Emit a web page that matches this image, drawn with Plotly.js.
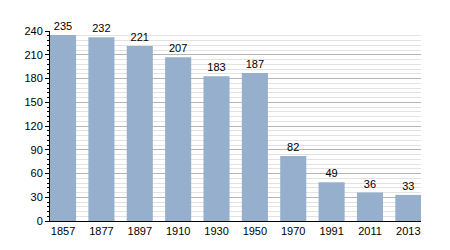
<!DOCTYPE html>
<html><head><meta charset="utf-8">
<script src="https://cdn.plot.ly/plotly-3.0.1.min.js"></script>
<style>body{margin:0;background:#fff}#c{width:450px;height:250px}</style>
</head><body><div id="c"></div>
<script>
const years = ["1857","1877","1897","1910","1930","1950","1970","1991","2011","2013"];
const population = [235,232,221,207,183,187,82,49,36,33];
const yTicks = [0,30,60,90,120,150,180,210,240];

Plotly.newPlot('c', [{
  type: 'bar',
  x: years,
  y: population,
  text: population.map(String),
  textposition: 'outside',
  textfont: {family: 'Liberation Sans, Arial, sans-serif', size: 11, color: '#000'},
  cliponaxis: false,
  marker: {color: '#96afcd'},
  hoverinfo: 'none'
}], {
  width: 450, height: 250,
  margin: {l: 50, r: 29, t: 31, b: 29, pad: 0},
  paper_bgcolor: '#fff', plot_bgcolor: '#fff',
  bargap: 0.32,
  showlegend: false,
  font: {family: 'Liberation Sans, Arial, sans-serif', size: 11, color: '#000'},
  xaxis: {
    type: 'category',
    range: [-0.34, 9.33],
    showline: true, linecolor: '#000', linewidth: 1,
    ticks: '', showgrid: false, zeroline: false,
    tickfont: {size: 11}
  },
  yaxis: {
    range: [0, 240],
    tickvals: yTicks,
    ticktext: yTicks.map(String),
    showline: true, linecolor: '#000', linewidth: 1,
    ticks: 'outside', ticklen: 4, tickcolor: '#000',
    gridcolor: '#b5b5b5', gridwidth: 1,
    zeroline: false,
    tickfont: {size: 11},
    minor: {dtick: 6, ticks: 'outside', ticklen: 2, tickcolor: '#000', showgrid: true, gridcolor: '#e2e2e2', gridwidth: 1}
  }
}, {displayModeBar: false, staticPlot: true});
</script></body></html>
